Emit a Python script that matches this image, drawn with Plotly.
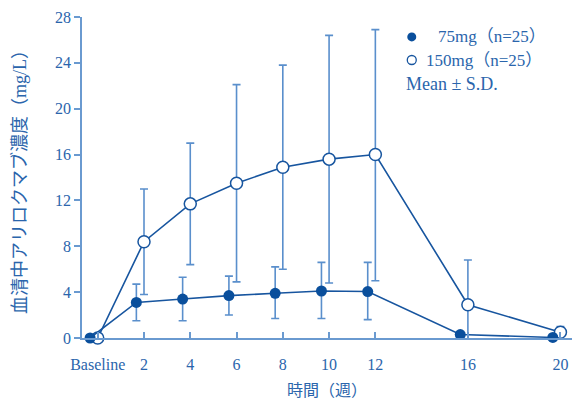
import plotly.graph_objects as go

weeks = [0, 2, 4, 6, 8, 10, 12, 16, 20]
tick_labels = ["Baseline", "2", "4", "6", "8", "10", "12", "16", "20"]

# 75 mg (filled), slightly offset left in original
mean_75 = [0, 3.1, 3.4, 3.7, 3.9, 4.1, 4.05, 0.3, 0.05]
upper_75 = [0, 4.7, 5.3, 5.4, 6.2, 6.6, 6.6, 0.3, 0.05]
lower_75 = [0, 1.5, 1.5, 2.0, 1.7, 1.7, 1.6, 0.3, 0.05]

# 150 mg (open)
mean_150 = [0, 8.4, 11.7, 13.5, 14.9, 15.6, 16.0, 2.9, 0.5]
upper_150 = [0, 13.0, 17.0, 22.1, 23.8, 26.4, 26.9, 6.8, 1.0]
lower_150 = [0, 3.8, 6.4, 4.9, 6.0, 4.8, 5.0, -1.0, -0.1]

offset_75 = -0.33

main = "#17559f"
err = "#5a8fcc"
axis_c = "#6a9ad0"
txt = "#2a65ac"
font_fam = "Liberation Serif, Noto Sans CJK JP, serif"

fig = go.Figure()

fig.add_trace(go.Scatter(
    x=weeks, y=mean_150, mode="lines+markers",
    line=dict(color=main, width=1.6),
    marker=dict(symbol="circle", size=12, color="white", line=dict(color=main, width=1.5)),
    error_y=dict(type="data", symmetric=False,
                 array=[u - m for u, m in zip(upper_150, mean_150)],
                 arrayminus=[m - l for m, l in zip(mean_150, lower_150)],
                 color=err, thickness=1.6, width=4),
    cliponaxis=False, showlegend=False,
))

fig.add_trace(go.Scatter(
    x=[w + offset_75 for w in weeks], y=mean_75, mode="lines+markers",
    line=dict(color=main, width=1.6),
    marker=dict(symbol="circle", size=11, color="#0a4f9c", line=dict(color="#0a4f9c", width=0)),
    error_y=dict(type="data", symmetric=False,
                 array=[u - m for u, m in zip(upper_75, mean_75)],
                 arrayminus=[m - l for m, l in zip(mean_75, lower_75)],
                 color=err, thickness=1.6, width=4),
    cliponaxis=False, showlegend=False,
))

# legend built with shapes and annotations
shapes = [
    dict(type="circle", xref="paper", yref="paper", xsizemode="pixel", ysizemode="pixel",
         xanchor=0.673, yanchor=0.938, x0=-4.5, x1=4.5, y0=-4.5, y1=4.5,
         fillcolor="#0a4f9c", line=dict(color="#0a4f9c", width=0)),
    dict(type="circle", xref="paper", yref="paper", xsizemode="pixel", ysizemode="pixel",
         xanchor=0.673, yanchor=0.866, x0=-4.5, x1=4.5, y0=-4.5, y1=4.5,
         fillcolor="white", line=dict(color=main, width=1.3)),
]

annotations = [
    dict(text="75mg（n=25）", xref="paper", yref="paper", x=0.722, y=0.938,
         xanchor="left", yanchor="middle", showarrow=False, font=dict(size=17, color=txt, family=font_fam)),
    dict(text="150mg（n=25）", xref="paper", yref="paper", x=0.698, y=0.866,
         xanchor="left", yanchor="middle", showarrow=False, font=dict(size=17, color=txt, family=font_fam)),
    dict(text="Mean ± S.D.", xref="paper", yref="paper", x=0.657, y=0.791,
         xanchor="left", yanchor="middle", showarrow=False, font=dict(size=18, color=txt, family=font_fam)),
]

fig.update_layout(
    width=575, height=403,
    margin=dict(l=82, r=3, t=17, b=65),
    plot_bgcolor="white", paper_bgcolor="white",
    font=dict(family=font_fam, color=txt, size=16),
    shapes=shapes, annotations=annotations,
    xaxis=dict(
        range=[-0.68, 20.5], tickvals=weeks, ticktext=tick_labels,
        showgrid=False, zeroline=False, showline=True, linecolor=axis_c, linewidth=1.6,
        ticks="inside", ticklen=6, tickcolor=axis_c, tickwidth=1.5,
        ticklabelstandoff=11,
        tickfont=dict(size=16, color=txt),
        title=dict(text="時間（週）", font=dict(size=16, color=txt), standoff=13),
    ),
    yaxis=dict(
        range=[0, 28], tickvals=[0, 4, 8, 12, 16, 20, 24, 28],
        showgrid=False, zeroline=False, showline=True, linecolor=axis_c, linewidth=1.6,
        ticks="outside", ticklen=6, tickcolor=axis_c, tickwidth=1.5,
        tickfont=dict(size=16, color=txt),
        title=dict(text="血清中アリロクマブ濃度（mg/L）", font=dict(size=18, color=txt), standoff=24),
    ),
)

fig.write_html("out.html", config={"displayModeBar": False},
               post_script="document.body.style.margin='0px';")
